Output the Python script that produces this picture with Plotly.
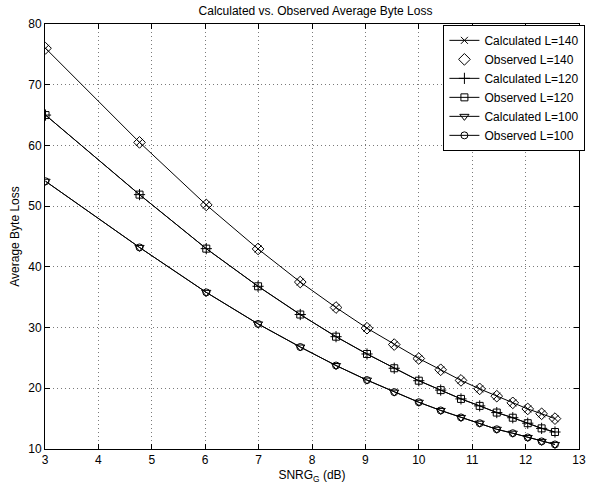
import plotly.graph_objects as go

# SNR_G operating points (dB)
snr_db = [3.01, 4.77, 6.02, 6.99, 7.78, 8.45, 9.03, 9.54, 10.0, 10.41,
          10.79, 11.14, 11.46, 11.76, 12.04, 12.30, 12.55]

# Average byte loss per packet length
calc_140 = [76.0, 60.5, 50.2, 42.95, 37.5, 33.3, 29.9, 27.2, 24.9, 23.05,
            21.3, 19.9, 18.7, 17.6, 16.6, 15.8, 15.0]
obs_140 = [76.0, 60.5, 50.2, 42.95, 37.5, 33.3, 29.9, 27.2, 24.9, 23.05,
           21.3, 19.9, 18.7, 17.6, 16.6, 15.8, 15.0]
calc_120 = [65.0, 51.9, 43.0, 36.8, 32.15, 28.5, 25.65, 23.3, 21.25, 19.7,
            18.25, 17.1, 16.0, 15.15, 14.25, 13.4, 12.8]
obs_120 = [65.0, 51.9, 43.0, 36.8, 32.15, 28.5, 25.65, 23.3, 21.25, 19.7,
           18.25, 17.1, 16.0, 15.15, 14.25, 13.4, 12.8]
calc_100 = [54.1, 43.2, 35.8, 30.6, 26.8, 23.75, 21.35, 19.37, 17.7, 16.35,
            15.2, 14.25, 13.25, 12.6, 11.9, 11.25, 10.75]
obs_100 = [54.1, 43.2, 35.8, 30.6, 26.8, 23.75, 21.35, 19.37, 17.7, 16.35,
           15.2, 14.25, 13.25, 12.6, 11.9, 11.25, 10.75]

FONT = "Liberation Sans, Arial, Helvetica, sans-serif"
BLACK = "black"

series = [
    ("Calculated L=140", calc_140, "lines+markers", "x-thin-open", 7),
    ("Observed L=140", obs_140, "markers", "diamond-open", 9),
    ("Calculated L=120", calc_120, "lines+markers", "cross-thin-open", 8),
    ("Observed L=120", obs_120, "lines+markers", "square-open", 7),
    ("Calculated L=100", calc_100, "lines+markers", "triangle-down-open", 8),
    ("Observed L=100", obs_100, "lines+markers", "circle-open", 7),
]

fig = go.Figure()
for name, ys, mode, sym, size in series:
    fig.add_trace(go.Scatter(
        x=snr_db, y=ys, name=name, mode=mode,
        line=dict(color=BLACK, width=1),
        marker=dict(symbol=sym, size=size, color=BLACK,
                    line=dict(color=BLACK, width=1)),
    ))

axis_common = dict(
    showline=True, linecolor=BLACK, linewidth=1, mirror="ticks",
    ticks="inside", ticklen=5, tickcolor=BLACK, tickwidth=1,
    showgrid=True, gridcolor="#7a7a7a", gridwidth=1, griddash="1px,3px",
    zeroline=False, tickfont=dict(family=FONT, size=12, color=BLACK),
)

fig.update_layout(
    width=594, height=488,
    margin=dict(l=45, r=8, t=24, b=35),
    paper_bgcolor="white", plot_bgcolor="white",
    font=dict(family=FONT, size=12, color=BLACK),
    title=dict(text="Calculated vs. Observed Average Byte Loss",
               x=(45 + 586) / 2 / 594, xanchor="center",
               y=1 - 11 / 488, yanchor="middle",
               font=dict(family=FONT, size=12, color=BLACK)),
    xaxis=dict(range=[3, 13], dtick=1, tick0=3,
               title=dict(text="SNRG<sub>G</sub> (dB)", standoff=4,
                          font=dict(family=FONT, size=12, color=BLACK)),
               **axis_common),
    yaxis=dict(range=[10, 80], dtick=10,
               title=dict(text="Average Byte Loss", standoff=6,
                          font=dict(family=FONT, size=12, color=BLACK)),
               **axis_common),
    legend=dict(x=1.012, xanchor="right", y=0.998, yanchor="top",
                bgcolor="white", bordercolor=BLACK, borderwidth=1,
                font=dict(family=FONT, size=12, color=BLACK),
                tracegroupgap=0, itemwidth=30),
    showlegend=True,
)

fig.write_html("out.html")
